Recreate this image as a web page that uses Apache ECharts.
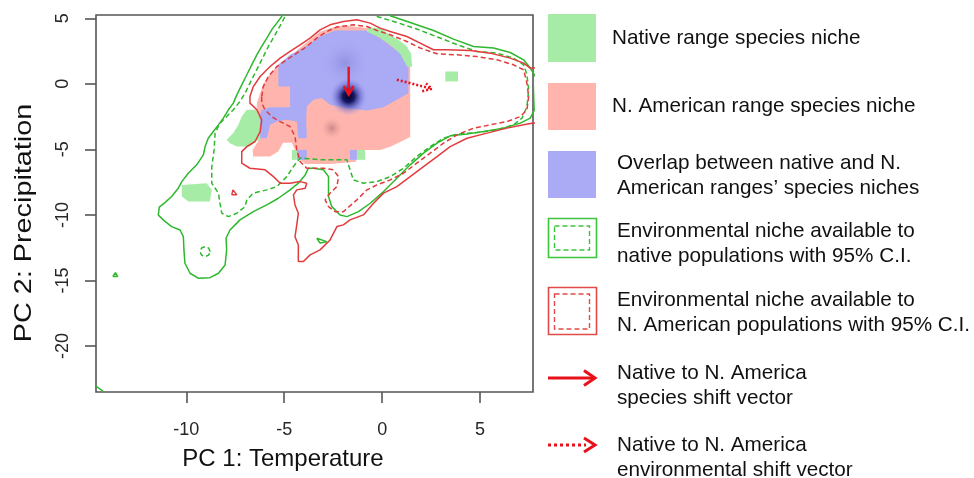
<!DOCTYPE html>
<html>
<head>
<meta charset="utf-8">
<script src="https://cdn.jsdelivr.net/npm/echarts@6/dist/echarts.min.js"></script>
<style>
  html, body { margin: 0; padding: 0; background: #ffffff; }
  #chart { width: 974px; height: 478px; }
</style>
</head>
<body>
<div id="chart"></div>
<script>
// ---- axes ----
const xTicks = [-10, -5, 0, 5];
const yTicks = [5, 0, -5, -10, -15, -20];
const xRange = [-14.61, 7.70];
const yRange = [-23.51, 5.25];

// ---- occupied niche surfaces, vertices as [PC1, PC2] ----
const naNicheArea = [
  [-6.40,-1.47],[-6.23,-0.71],[-6.07,0.00],[-5.72,0.76],[-5.21,1.58],[-4.70,2.08],[-4.19,2.75],
  [-3.68,3.36],[-3.17,3.97],[-2.40,4.35],[-1.89,4.43],[-0.82,4.27],[-0.10,3.89],[0.51,3.36],
  [1.02,2.75],[1.43,1.98],[1.43,-4.05],[0.92,-4.43],[0.41,-4.81],[-0.10,-5.04],[-1.02,-5.04],
  [-1.33,-5.50],[-1.33,-5.95],[-2.66,-6.11],[-3.93,-6.11],[-4.29,-5.65],[-4.45,-5.04],
  [-4.61,-4.50],[-5.06,-4.50],[-5.31,-5.17],[-5.72,-5.55],[-6.59,-5.55],[-6.61,-5.04],
  [-6.40,-4.53],[-6.23,-4.15],[-6.32,-3.26],[-6.40,-2.50],[-6.40,-1.85]
];
const overlapAreas = [
  [[-5.30,1.45],[-4.70,2.21],[-4.02,2.73],[-3.17,3.61],[-2.40,4.07],[-0.78,4.07],[-0.10,3.49],
   [0.92,2.34],[1.34,1.45],[1.34,-0.71],[0.75,-1.22],[0.07,-1.78],[-0.78,-2.04],[-1.80,-1.85],
   [-2.66,-1.60],[-3.08,-1.09],[-3.51,-1.22],[-3.85,-1.73],[-3.88,-2.75],[-3.85,-4.15],
   [-4.28,-4.15],[-4.36,-2.88],[-4.87,-2.75],[-5.38,-2.88],[-5.72,-3.13],[-5.89,-4.15],
   [-6.23,-4.15],[-6.32,-2.75],[-6.15,-1.98],[-5.72,-1.78],[-4.70,-1.78],[-4.70,-0.21],[-5.30,-0.21]],
  [[-4.36,-5.04],[-3.85,-5.04],[-3.85,-5.80],[-4.36,-5.80]],
  [[-1.64,-5.04],[-1.29,-5.04],[-1.29,-5.80],[-1.64,-5.80]]
];
const nativeOnlyAreas = [
  [[-0.78,4.27],[-0.10,4.27],[0.31,3.82],[0.82,3.36],[1.23,2.90],[1.48,2.29],[1.53,1.30],
   [1.28,1.30],[0.92,2.29],[0.41,2.98],[-0.20,3.59],[-0.78,3.97]],
  [[3.22,0.94],[3.87,0.94],[3.87,0.18],[3.22,0.18]],
  [[-6.91,-1.98],[-6.40,-1.98],[-6.23,-2.75],[-6.23,-4.27],[-6.49,-4.40],[-6.75,-4.79],
   [-7.42,-4.79],[-7.77,-4.53],[-7.94,-4.27],[-7.60,-3.76],[-7.34,-3.13],[-7.17,-2.50]],
  [[-10.23,-7.71],[-8.96,-7.58],[-8.70,-8.09],[-8.79,-8.98],[-9.90,-8.98],[-10.23,-8.60]],
  [[-4.61,-5.04],[-4.36,-5.04],[-4.36,-5.80],[-4.61,-5.80]],
  [[-1.29,-5.04],[-0.87,-5.04],[-0.87,-5.80],[-1.29,-5.80]]
];
// occurrence density peaks: [PC1, PC2, spread along PC1, spread along PC2]
const overlapDensityPeaks = [
  [-1.90, 1.60, 1.3, 2.0],
  [-1.72, -0.97, 1.0, 1.5]
];
const naDensityPeaks = [
  [-2.57, -3.38, 1.0, 0.9]
];

// ---- available environment contours ----
const nativeEnvAll = [
  [-5.06,5.50],[-5.13,5.14],[-5.38,4.63],[-5.64,4.12],[-5.89,3.49],[-6.15,2.85],[-6.40,2.21],
  [-6.66,1.45],[-6.91,0.69],[-7.17,-0.08],[-7.42,-0.84],[-7.60,-1.47],[-7.85,-1.98],[-8.11,-2.62],
  [-8.36,-3.13],[-8.62,-3.64],[-8.88,-4.15],[-9.04,-4.79],[-9.13,-5.42],[-9.47,-6.18],[-9.90,-6.82],
  [-10.23,-7.46],[-10.41,-7.96],[-10.75,-8.60],[-11.09,-9.06],[-11.38,-9.41],[-11.43,-10.00],
  [-11.18,-10.38],[-10.75,-10.89],[-10.32,-11.15],[-10.15,-11.66],[-10.12,-12.67],[-10.07,-13.69],
  [-9.81,-14.45],[-9.39,-14.83],[-8.79,-14.79],[-8.36,-14.45],[-8.02,-13.82],[-7.94,-12.67],
  [-7.97,-11.78],[-7.77,-11.15],[-7.26,-10.38],[-6.58,-9.75],[-5.89,-9.24],[-5.30,-8.73],
  [-4.70,-8.09],[-4.28,-7.58],[-3.93,-6.95],[-3.77,-6.44],[-3.51,-6.44],[-3.00,-6.56],[-2.74,-7.08],
  [-2.74,-8.60],[-2.57,-9.37],[-2.15,-10.00],[-1.80,-10.13],[-1.21,-9.75],[-0.61,-9.11],[0.07,-8.22],
  [0.75,-7.20],[1.43,-6.18],[2.11,-5.29],[2.80,-4.53],[3.47,-3.97],[4.33,-3.82],[5.18,-3.64],
  [6.20,-3.38],[7.05,-3.00],[7.56,-2.62],[7.80,-1.90],[7.85,0.50],[7.56,1.20],[7.22,1.83],
  [6.54,2.39],[5.69,2.73],[4.67,2.85],[3.64,3.41],[2.62,4.07],[1.43,4.68],[0.41,5.19],[0.15,5.57]
];
const nativeEnv95 = [
  [-4.80,5.65],[-5.13,4.63],[-5.47,3.74],[-5.81,2.85],[-6.15,1.83],[-6.49,0.82],[-6.75,0.05],
  [-7.00,-0.71],[-7.26,-1.35],[-7.60,-1.98],[-7.94,-2.50],[-8.28,-3.00],[-8.53,-3.76],[-8.58,-5.04],
  [-8.70,-6.31],[-8.70,-7.58],[-8.36,-8.34],[-8.28,-9.11],[-8.19,-9.87],[-7.85,-10.13],[-7.42,-9.87],
  [-7.00,-9.37],[-6.91,-8.85],[-6.58,-8.34],[-5.89,-8.09],[-5.38,-7.84],[-4.87,-7.08],[-4.53,-6.31],
  [-4.19,-5.67],[-3.00,-5.80],[-1.80,-5.80],[-1.64,-6.56],[-1.47,-7.33],[-0.96,-7.58],[-0.27,-7.46],
  [0.41,-7.08],[1.09,-6.44],[1.77,-5.55],[2.45,-4.79],[3.13,-4.15],[3.82,-3.84],[4.84,-3.72],
  [5.86,-3.51],[6.71,-3.13],[7.14,-2.62],[7.39,-1.73],[7.48,-0.46],[7.39,0.69],[7.22,1.45],
  [6.71,1.96],[5.86,2.34],[4.84,2.47],[3.99,2.90],[2.96,3.49],[1.77,4.18],[0.75,4.68],
  [-0.27,5.14],[-0.51,5.57]
];
const nativeEnvSmall = [
  [[-13.75,-14.70],[-13.50,-14.70],[-13.62,-14.40],[-13.75,-14.70]],
  [[-14.62,-23.05],[-14.40,-23.30],[-14.25,-23.45]],
  [[-3.34,-11.78],[-2.83,-12.04],[-3.17,-12.14],[-3.34,-11.78]]
];
const nativeEnv95Small = [
  [[-8.78,-12.80],[-8.86,-12.53],[-9.04,-12.42],[-9.22,-12.53],[-9.30,-12.80],[-9.22,-13.07],
   [-9.04,-13.18],[-8.86,-13.07],[-8.78,-12.80]]
];
const naEnvAll = [
  [7.92,1.22],[7.56,1.20],[7.22,1.58],[6.54,1.96],[5.52,2.34],[4.50,2.54],[3.31,2.60],[2.62,2.60],
  [1.94,3.11],[1.26,3.61],[0.41,3.99],[-0.10,4.25],[-0.61,4.63],[-1.29,4.89],[-1.98,4.76],
  [-2.66,4.50],[-3.17,4.12],[-3.68,3.49],[-4.19,2.98],[-4.70,2.47],[-5.21,1.96],[-5.72,1.32],
  [-6.23,0.56],[-6.58,-0.21],[-6.75,-0.97],[-6.75,-1.47],[-6.40,-1.98],[-6.15,-2.75],[-6.23,-3.64],
  [-6.49,-4.40],[-6.91,-4.79],[-7.17,-5.17],[-7.17,-6.05],[-6.75,-6.44],[-5.98,-6.56],[-5.55,-7.08],
  [-5.21,-7.58],[-4.70,-7.58],[-4.19,-7.46],[-3.85,-7.58],[-3.93,-7.96],[-4.36,-8.09],[-4.53,-8.47],
  [-4.45,-9.24],[-4.28,-9.87],[-4.36,-10.76],[-4.45,-11.66],[-4.28,-12.29],[-4.28,-13.56],
  [-4.02,-13.56],[-3.68,-13.05],[-3.17,-12.67],[-2.66,-11.91],[-2.31,-10.89],[-1.98,-10.76],
  [-1.64,-10.38],[-0.96,-10.00],[-0.44,-9.11],[0.07,-8.34],[0.75,-7.84],[1.43,-7.08],[2.11,-6.31],
  [2.80,-5.55],[3.47,-4.79],[4.33,-4.15],[5.35,-3.76],[6.37,-3.38],[7.22,-3.13],[7.65,-3.00],
  [7.92,-2.98],[7.92,1.22]
];
const naEnv95 = [
  [-6.15,-0.97],[-6.07,-0.21],[-5.81,0.56],[-5.38,1.32],[-4.87,1.83],[-4.36,2.34],[-3.85,2.85],
  [-3.34,3.49],[-2.83,3.99],[-2.31,4.33],[-1.47,4.50],[-0.78,4.37],[-0.27,4.07],[0.41,3.74],
  [1.26,3.23],[1.94,2.73],[2.80,2.29],[3.82,2.21],[4.84,2.08],[5.86,1.83],[6.71,1.45],[7.22,1.07],
  [7.39,0.05],[7.48,-0.97],[7.39,-1.98],[7.05,-2.50],[6.37,-2.88],[5.52,-3.13],[4.67,-3.38],
  [3.82,-3.89],[3.13,-4.53],[2.45,-5.29],[1.77,-6.05],[1.09,-6.82],[0.41,-7.33],[-0.27,-7.71],
  [-0.78,-8.09],[-1.29,-8.85],[-1.98,-9.75],[-2.40,-9.75],[-2.74,-9.37],[-2.91,-8.85],[-2.66,-8.34],
  [-2.31,-7.84],[-2.23,-7.08],[-2.49,-6.56],[-3.00,-6.44],[-3.85,-6.44],[-4.19,-5.93],[-4.36,-5.04],
  [-4.45,-4.02],[-4.70,-3.26],[-5.21,-2.88],[-5.64,-2.50],[-5.98,-1.98],[-6.15,-1.47],[-6.15,-0.97]
];
const naEnvSmall = [
  [[-7.68,-8.47],[-7.42,-8.47],[-7.62,-8.09],[-7.68,-8.47]]
];

// ---- centroid shift vectors [from, to] ----
const speciesShift = [[-1.71, 1.30], [-1.71, -0.84]];
const envShift = [[0.75, 0.31], [2.54, -0.38]];

// ---- colours ----
const GREEN_FILL = '#a6eca6';
const PINK_FILL = '#ffb5ae';
const BLUE_FILL = '#aaaaf5';
const GREEN_LINE = '#2eb82e';
const RED_LINE = '#e23b3e';
const ARROW_RED = '#e8101a';
const FONT = '"Liberation Sans", Arial, Helvetica, sans-serif';

function areaSeries(polys, color, z) {
  return {
    type: 'custom', coordinateSystem: 'cartesian2d', clip: true, silent: true, z: z,
    animation: false,
    encode: { x: 0, y: 1 },
    data: polys.map(function (p, i) { return [p[0][0], p[0][1], i]; }),
    renderItem: function (params, api) {
      const pts = polys[params.dataIndex].map(function (v) { return api.coord(v); });
      return { type: 'polygon', shape: { points: pts }, style: { fill: color, stroke: null } };
    }
  };
}

function densitySeries(peaks, stops, z) {
  return {
    type: 'custom', coordinateSystem: 'cartesian2d', clip: true, silent: true, z: z,
    animation: false,
    encode: { x: 0, y: 1 },
    data: peaks,
    renderItem: function (params, api) {
      const c = api.coord([api.value(0), api.value(1)]);
      const s = api.size([api.value(2), api.value(3)]);
      return {
        type: 'ellipse',
        shape: { cx: c[0], cy: c[1], rx: s[0], ry: s[1] },
        style: { fill: new echarts.graphic.RadialGradient(0.5, 0.5, 0.5, stops) }
      };
    }
  };
}

function contourSeries(pts, color, dashed) {
  return {
    type: 'line', data: pts, showSymbol: false, symbol: 'none', silent: true,
    animation: false, clip: true, z: 6, smooth: false,
    lineStyle: { color: color, width: 1.5, type: dashed ? [5, 3] : 'solid' },
    emphasis: { disabled: true }
  };
}

function arrowSeries(vec, dotted) {
  return {
    type: 'custom', coordinateSystem: 'cartesian2d', clip: false, silent: true, z: 9,
    animation: false,
    encode: { x: [0, 2], y: [1, 3] },
    data: [[vec[0][0], vec[0][1], vec[1][0], vec[1][1]]],
    renderItem: function (params, api) {
      const a = api.coord([api.value(0), api.value(1)]);
      const b = api.coord([api.value(2), api.value(3)]);
      const ang = Math.atan2(b[1] - a[1], b[0] - a[0]);
      const L = 10, W = 0.5;
      const h1 = [b[0] - L * Math.cos(ang - W), b[1] - L * Math.sin(ang - W)];
      const h2 = [b[0] - L * Math.cos(ang + W), b[1] - L * Math.sin(ang + W)];
      return {
        type: 'group',
        children: [
          { type: 'line', shape: { x1: a[0], y1: a[1], x2: b[0], y2: b[1] },
            style: { stroke: ARROW_RED, lineWidth: 2.4, lineDash: dotted ? [2, 2] : null } },
          { type: 'polyline', shape: { points: [h1, b, h2] },
            style: { stroke: ARROW_RED, lineWidth: 2.4, fill: null, lineDash: dotted ? [2, 2] : null } }
        ]
      };
    }
  };
}

const series = [];
series.push(areaSeries([naNicheArea], PINK_FILL, 1));
series.push(densitySeries(naDensityPeaks, [
  { offset: 0, color: 'rgba(196,128,128,0.85)' },
  { offset: 0.5, color: 'rgba(220,150,148,0.45)' },
  { offset: 1, color: 'rgba(255,181,174,0)' }
], 2));
series.push(areaSeries(overlapAreas, BLUE_FILL, 2));
series.push(densitySeries([overlapDensityPeaks[0]], [
  { offset: 0, color: 'rgba(130,130,215,0.6)' },
  { offset: 1, color: 'rgba(170,170,245,0)' }
], 3));
series.push(densitySeries([overlapDensityPeaks[1]], [
  { offset: 0, color: 'rgba(0,0,40,1)' },
  { offset: 0.3, color: 'rgba(15,15,90,0.95)' },
  { offset: 0.6, color: 'rgba(90,90,190,0.6)' },
  { offset: 1, color: 'rgba(170,170,245,0)' }
], 3));
series.push(areaSeries(nativeOnlyAreas, GREEN_FILL, 4));
series.push(contourSeries(nativeEnvAll, GREEN_LINE, false));
series.push(contourSeries(nativeEnv95, GREEN_LINE, true));
nativeEnvSmall.forEach(function (p) { series.push(contourSeries(p, GREEN_LINE, false)); });
nativeEnv95Small.forEach(function (p) { series.push(contourSeries(p, GREEN_LINE, true)); });
series.push(contourSeries(naEnvAll, RED_LINE, false));
series.push(contourSeries(naEnv95, RED_LINE, true));
naEnvSmall.forEach(function (p) { series.push(contourSeries(p, RED_LINE, false)); });
series.push(arrowSeries(speciesShift, false));
series.push(arrowSeries(envShift, true));

// ---- legend drawn beside the plot ----
function legendText(x, y, text) {
  return {
    type: 'text', x: x, y: y, silent: true,
    style: { text: text, fontSize: 20.7, fontFamily: FONT, fill: '#111111', lineHeight: 25,
             align: 'left', verticalAlign: 'middle', textAlign: 'left', textVerticalAlign: 'middle' }
  };
}
const graphic = [
  { type: 'rect', shape: { x: 548, y: 14, width: 48, height: 48 }, style: { fill: GREEN_FILL } },
  { type: 'rect', shape: { x: 548, y: 83, width: 48, height: 47 }, style: { fill: PINK_FILL } },
  { type: 'rect', shape: { x: 548, y: 151, width: 48, height: 47 }, style: { fill: BLUE_FILL } },
  { type: 'rect', shape: { x: 548.5, y: 218.5, width: 48, height: 39 },
    style: { fill: null, stroke: '#3cc43c', lineWidth: 1.6 } },
  { type: 'rect', shape: { x: 554.5, y: 226, width: 35, height: 24 },
    style: { fill: null, stroke: '#3cc43c', lineWidth: 1.4, lineDash: [5, 3] } },
  { type: 'rect', shape: { x: 548.5, y: 287.5, width: 48, height: 47 },
    style: { fill: null, stroke: '#e24a4a', lineWidth: 1.6 } },
  { type: 'rect', shape: { x: 554.5, y: 294, width: 35, height: 35 },
    style: { fill: null, stroke: '#e24a4a', lineWidth: 1.4, lineDash: [5, 3] } },
  { type: 'line', shape: { x1: 548, y1: 378, x2: 593, y2: 378 },
    style: { stroke: ARROW_RED, lineWidth: 3 } },
  { type: 'polyline', shape: { points: [[584, 370.5], [595, 378], [584, 385.5]] },
    style: { stroke: ARROW_RED, lineWidth: 3, fill: null } },
  { type: 'line', shape: { x1: 548, y1: 445, x2: 586, y2: 445 },
    style: { stroke: ARROW_RED, lineWidth: 3, lineDash: [3, 3] } },
  { type: 'polyline', shape: { points: [[584, 438], [595, 445], [584, 452]] },
    style: { stroke: ARROW_RED, lineWidth: 3, fill: null } },
  legendText(612, 38.5, 'Native range species niche'),
  legendText(612, 106.5, 'N. American range species niche'),
  legendText(617, 176, 'Overlap between native and N.\nAmerican ranges\u2019 species niches'),
  legendText(617, 243.5, 'Environmental niche available to\nnative populations with 95% C.I.'),
  legendText(617, 312.5, 'Environmental niche available to\nN. American populations with 95% C.I.'),
  legendText(617, 386, 'Native to N. America\nspecies shift vector'),
  legendText(617, 457.5, 'Native to N. America\nenvironmental shift vector'),
  // axis titles
  { type: 'text', x: 283, y: 459, silent: true,
    style: { text: 'PC 1: Temperature', fontSize: 24, fontFamily: FONT, fill: '#111111',
             align: 'center', verticalAlign: 'middle', textAlign: 'center', textVerticalAlign: 'middle' } },
  { type: 'text', x: 24, y: 223, rotation: Math.PI / 2, scaleX: 1.2, silent: true,
    style: { text: 'PC 2: Precipitation', fontSize: 24, fontFamily: FONT, fill: '#111111',
             align: 'center', verticalAlign: 'middle', textAlign: 'center', textVerticalAlign: 'middle' } }
];

const chart = echarts.init(document.getElementById('chart'), null, { renderer: 'canvas' });
chart.setOption({
  animation: false,
  backgroundColor: '#ffffff',
  grid: { left: 96, right: 441, top: 15, bottom: 86, show: true,
          borderColor: '#555555', borderWidth: 1.6, backgroundColor: 'transparent' },
  xAxis: {
    type: 'value', min: xRange[0], max: xRange[1], position: 'bottom',
    axisLine: { show: false, onZero: false },
    splitLine: { show: false },
    axisTick: { show: true, customValues: xTicks, length: 11, inside: false,
                lineStyle: { color: '#555555', width: 1.6 } },
    axisLabel: { customValues: xTicks, margin: 29, fontSize: 18, fontFamily: FONT, color: '#262626' }
  },
  yAxis: {
    type: 'value', min: yRange[0], max: yRange[1], position: 'left',
    axisLine: { show: false, onZero: false },
    splitLine: { show: false },
    axisTick: { show: true, customValues: yTicks, length: 11, inside: false,
                lineStyle: { color: '#555555', width: 1.6 } },
    axisLabel: { customValues: yTicks, rotate: 90, margin: 24, fontSize: 18, fontFamily: FONT, color: '#262626' }
  },
  series: series,
  graphic: graphic
});
</script>
</body>
</html>
